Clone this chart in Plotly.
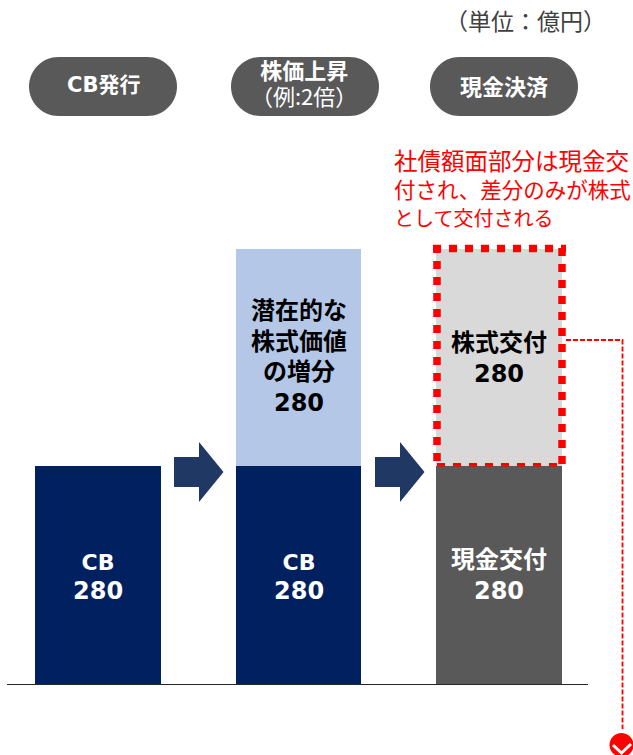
import plotly.graph_objects as go

categories = ["CB発行", "株価上昇", "現金決済"]
base_values = [280, 280, 280]
upper_values = [0, 280, 280]
base_colors = ["#002060", "#002060", "#595959"]
upper_colors = ["#B4C7E7", "#B4C7E7", "#D9D9D9"]

W, H = 633, 755
ML, MR, MT, MB = 7, 45, 0, 71
CJK = "Noto Sans CJK JP"
LATIN_CJK = "DejaVu Sans, Noto Sans CJK JP"


def px(x):
    return (x - ML) / (W - ML - MR)


def py(y):
    return 1 - (y - MT) / (H - MT - MB)


def path(points, close=True):
    d = "M" + " L".join(f"{px(x):.5f},{py(y):.5f}" for x, y in points)
    return d + (" Z" if close else "")


def pill(x0, x1, y0, y1):
    r = (y1 - y0) / 2
    k = r * 0.5523
    ym = (y0 + y1) / 2
    p = lambda x, y: f"{px(x):.5f},{py(y):.5f}"
    return (
        f"M{p(x0 + r, y0)} L{p(x1 - r, y0)} "
        f"C{p(x1 - r + k, y0)} {p(x1, ym - k)} {p(x1, ym)} "
        f"C{p(x1, ym + k)} {p(x1 - r + k, y1)} {p(x1 - r, y1)} "
        f"L{p(x0 + r, y1)} "
        f"C{p(x0 + r - k, y1)} {p(x0, ym + k)} {p(x0, ym)} "
        f"C{p(x0, ym - k)} {p(x0 + r - k, y0)} {p(x0 + r, y0)} Z"
    )


shapes = []


def add_shape(d, fill=None, line=None, width=0, dash="solid"):
    shapes.append(dict(
        type="path", xref="paper", yref="paper", path=d, layer="above",
        fillcolor=fill if fill else "rgba(0,0,0,0)",
        line=dict(color=line if line else "rgba(0,0,0,0)", width=width, dash=dash),
    ))


# header pills
for x0 in (29, 231, 430):
    add_shape(pill(x0, x0 + 148, 57, 116), fill="#595959")

# arrows
for x0 in (174, 375):
    add_shape(path([(x0, 457), (x0 + 25, 457), (x0 + 25, 442), (x0 + 49.5, 472),
                    (x0 + 25, 502), (x0 + 25, 487), (x0, 487)]), fill="#1F3864")

# red dotted frame
RED = "#FF0000"
dots = "8px,8px"
add_shape(path([(433, 248.5), (566, 248.5)], False), line=RED, width=7.5, dash=dots)
add_shape(path([(437, 245), (437, 462)], False), line=RED, width=7.5, dash=dots)
add_shape(path([(562, 248), (562, 464)], False), line=RED, width=7.5, dash=dots)
add_shape(path([(437, 464.7), (562, 464.7)], False), line=RED, width=3.5, dash=dots)

# thin connector
add_shape(path([(566, 340), (622.5, 340), (622.5, 729)], False), line=RED, width=1.8, dash="5px,2px")

# round marker with chevron
add_shape(pill(609.5, 633.5, 733, 757), fill=RED)
add_shape(path([(613, 745), (621.5, 753), (631, 744)], False), line="#FFFFFF", width=3)


annotations = []


def sized(text, size):
    return f"<span style='font-size:{size}px'>{text}</span>"


def label(text, x, y, size, color, bold=False, family=LATIN_CJK, anchor="center"):
    annotations.append(dict(
        text=f"<b>{text}</b>" if bold else text,
        xref="paper", yref="paper", x=px(x), y=py(y),
        xanchor=anchor, yanchor="middle", align=anchor, showarrow=False,
        font=dict(size=size, color=color, family=family),
    ))


label("（単位：億円）", 525, 20, 23, "#404040", family=CJK)
label("CB発行", 103, 85, 21, "#FFFFFF", True)
label("<b>" + sized("株価上昇", 22) + "</b><br>" + sized("（例:2倍）", 22), 304, 82, 20, "#FFFFFF", False, CJK)
label("現金決済", 504, 85, 22, "#FFFFFF", True, CJK)

label(sized("社債額面部分は現金交", 23.5) + "<br>付され、差分のみが株式<br>" + sized("として交付される", 20),
      392, 187.5, 21.5, RED, family=CJK, anchor="left")

for x in (98, 299):
    label("CB<br>" + sized("280", 24), x, 577.5, 22, "#FFFFFF", True)
label(sized("潜在的な", 24) + "<br>" + sized("株式価値", 24) + "<br>" + sized("の増分", 24) + "<br>" + sized("280", 24),
      299, 356.5, 23.5, "#000000", True)
label("株式交付<br>280", 499, 358, 24, "#000000", True)
label("現金交付<br>280", 499, 575, 24, "#FFFFFF", True)

fig = go.Figure()
fig.add_bar(x=categories, y=base_values, width=0.628, marker=dict(color=base_colors, line_width=0), hoverinfo="skip")
fig.add_bar(x=categories, y=upper_values, width=0.628, marker=dict(color=upper_colors, line_width=0), hoverinfo="skip")
fig.update_layout(
    width=W, height=H, autosize=False, barmode="stack", showlegend=False,
    margin=dict(l=ML, r=MR, t=MT, b=MB, pad=0),
    paper_bgcolor="#FFFFFF", plot_bgcolor="#FFFFFF",
    shapes=shapes, annotations=annotations,
    xaxis=dict(type="category", range=[-0.454, 2.444], showticklabels=False, ticks="",
               showgrid=False, zeroline=False, showline=True, linecolor="#262626", linewidth=1.3),
    yaxis=dict(range=[0, 880], visible=False, showgrid=False, zeroline=False),
)
fig.write_html("out.html", config={"displayModeBar": False},
               post_script="document.body.style.margin='0';document.body.style.overflow='hidden';")
